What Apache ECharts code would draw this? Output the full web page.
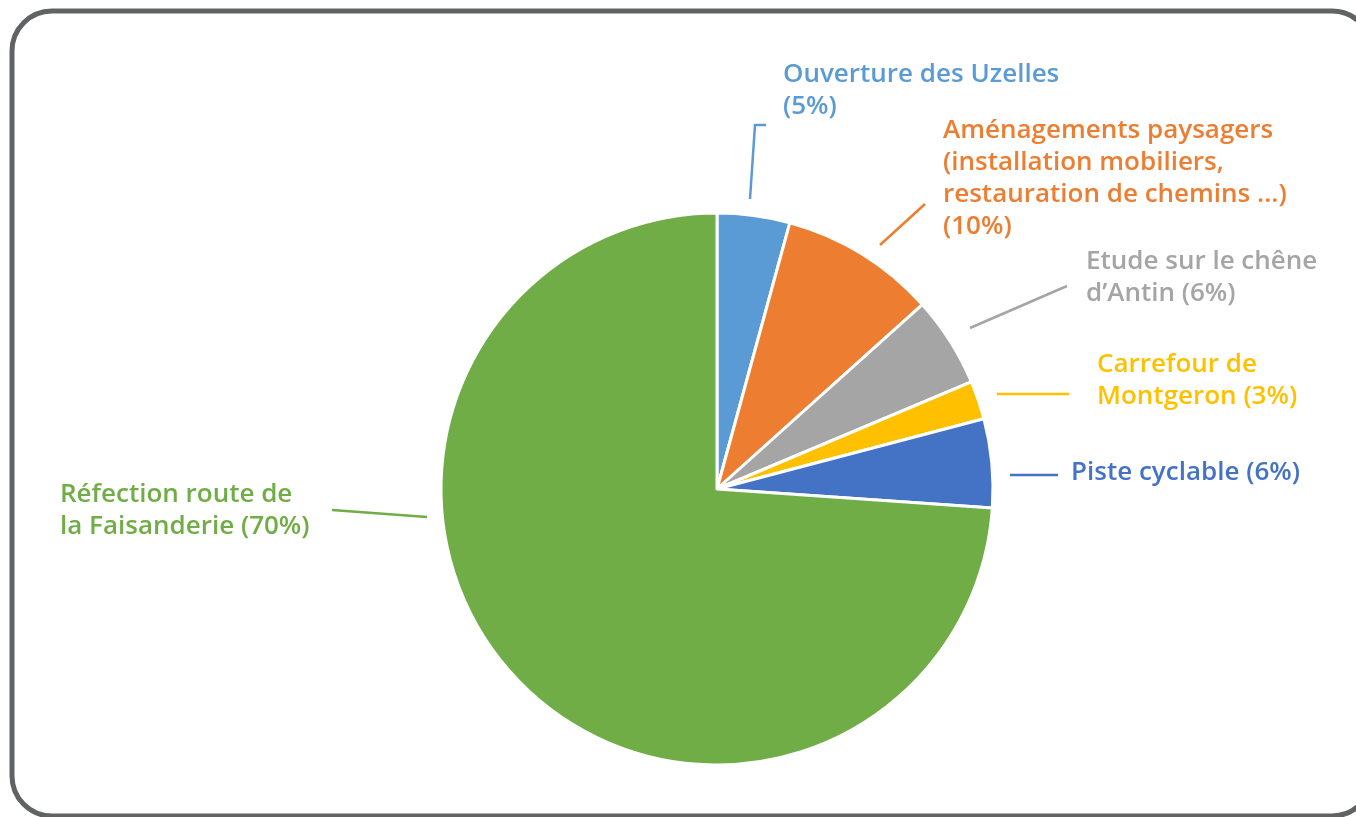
<!DOCTYPE html>
<html>
<head>
<meta charset="utf-8">
<script src="https://cdn.jsdelivr.net/npm/echarts@6/dist/echarts.min.js"></script>
<style>
html,body{margin:0;padding:0;background:#fff;}
#chart{width:1356px;height:817px;}
</style>
</head>
<body>
<div id="chart"></div>
<script>
// ---- data ----
const categories = [
  "Ouverture des Uzelles",
  "Aménagements paysagers\n(installation mobiliers,\nrestauration de chemins ...)",
  "Etude sur le chêne\nd’Antin",
  "Carrefour de\nMontgeron",
  "Piste cyclable",
  "Réfection route de\nla Faisanderie"
];
const sliceValues = [4.25, 9.1, 5.3, 2.25, 5.2, 73.9];
const labelPercents = ["(5%)", "(10%)", "(6%)", "(3%)", "(6%)", "(70%)"];
const labelJoin = ["\n", "\n", " ", " ", " ", " "];
const colors = ["#5B9BD5", "#ED7D31", "#A5A5A5", "#FFC000", "#4472C4", "#70AD47"];

// ---- layout (label placement + leader lines, like the original manual layout) ----
const labelPos = [
  {x: 783, y: 59},
  {x: 943, y: 115},
  {x: 1086, y: 246},
  {x: 1097, y: 349},
  {x: 1071, y: 457},
  {x: 60, y: 479}
];
const leaderLines = [
  [[750, 199], [755, 125], [766, 125]],
  [[880, 245], [925, 204]],
  [[970, 328], [1067, 286]],
  [[997, 394], [1069, 394]],
  [[1010, 475], [1058, 475]],
  [[427, 517], [332, 510]]
];

const chart = echarts.init(document.getElementById('chart'));
const data = categories.map((c, i) => ({
  name: c,
  value: sliceValues[i],
  itemStyle: {color: colors[i]},
  label: {color: colors[i]},
  labelLine: {lineStyle: {color: colors[i]}}
}));

chart.setOption({
  animation: false,
  backgroundColor: '#ffffff',
  graphic: [{
    type: 'rect',
    shape: {x: 12, y: 11, width: 1360, height: 805, r: 40},
    style: {fill: 'none', stroke: '#616264', lineWidth: 5},
    silent: true
  }],
  series: [{
    type: 'pie',
    center: [717, 489],
    radius: [0, 276],
    startAngle: 90,
    clockwise: true,
    avoidLabelOverlap: false,
    itemStyle: {borderColor: '#ffffff', borderWidth: 3},
    label: {
      show: true,
      position: 'outside',
      fontFamily: 'Open Sans',
      fontWeight: 600,
      fontSize: 26,
      lineHeight: 32,
      formatter: p => p.name + labelJoin[p.dataIndex] + labelPercents[p.dataIndex]
    },
    labelLine: {show: true, lineStyle: {width: 2.5}},
    labelLayout: function (params) {
      const i = params.dataIndex;
      return {
        x: labelPos[i].x,
        y: labelPos[i].y,
        align: 'left',
        verticalAlign: 'top',
        labelLinePoints: leaderLines[i]
      };
    },
    emphasis: {disabled: true},
    data: data
  }]
});
</script>
</body>
</html>
